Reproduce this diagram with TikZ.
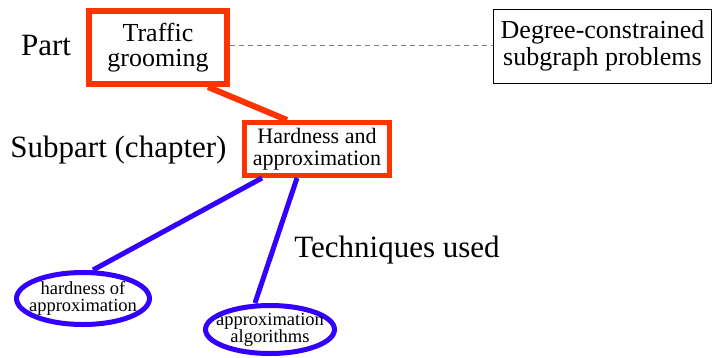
\documentclass[tikz,border=0pt]{standalone}
\usepackage{fontspec}
\setmainfont{Liberation Serif}
\usepackage{xcolor}
\usepackage{tikz}
\usetikzlibrary{shapes.geometric}

\definecolor{partred}{RGB}{255,51,0}
\definecolor{techblue}{RGB}{51,0,255}

\begin{document}
\begin{tikzpicture}[x=1pt, y=-1pt,
    levellabel/.style={inner sep=0pt, anchor=base, font=\fontsize{31}{31}\selectfont},
    partbox/.style={draw=partred, line width=6pt, inner sep=0pt, align=center,
        minimum width=138pt, minimum height=73pt, font=\fontsize{26}{25}\selectfont},
    otherbox/.style={draw, line width=0.8pt, inner sep=0pt, align=center,
        minimum width=218pt, minimum height=74pt, font=\fontsize{26}{27}\selectfont},
    subbox/.style={draw=partred, line width=5pt, inner sep=0pt, align=center,
        minimum width=145pt, minimum height=53pt, font=\fontsize{22}{22}\selectfont},
    technique/.style={ellipse, draw=techblue, line width=5pt, inner xsep=-10pt, inner ysep=-4pt,
        align=center, font=\fontsize{18.5}{17}\selectfont},
    redlink/.style={partred, line width=6pt},
    bluelink/.style={techblue, line width=5pt}
]
    \useasboundingbox (0,0) rectangle (713,357);

    % level labels
    \node[levellabel] (partlbl) at (46,55) {Part};
    \node[levellabel] (subpartlbl) at (118.5,157) {Subpart (chapter)};
    \node[levellabel] (techlbl) at (397,257) {Techniques used};

    % parts
    \node[partbox] (traffic) at (158,47.5) {Traffic\\grooming};
    \node[otherbox] (degree) at (602.5,46) {Degree-constrained\\subgraph problems};

    % chapter
    \node[subbox] (hardness) at (317,149) {Hardness and\\approximation};

    % techniques
    \node[technique, minimum width=133pt, minimum height=52pt] (hardapprox) at (83,298.5)
        {hardness of\\approximation};
    \node[technique, minimum width=129pt, minimum height=48pt] (approxalg) at (270,329.5)
        {approximation\\algorithms};

    % links
    \draw[gray, line width=1pt, dash pattern=on 5pt off 4pt]
        ([yshift=2.5pt]traffic.east) -- ([yshift=1pt]degree.west);
    \draw[redlink] ([xshift=50pt]traffic.south) -- ([xshift=-30pt]hardness.north);
    \draw[bluelink] ([xshift=-55pt]hardness.south) -- ([xshift=10pt]hardapprox.north);
    \draw[bluelink] ([xshift=-20pt]hardness.south) -- ([xshift=-15pt]approxalg.north);
\end{tikzpicture}
\end{document}
